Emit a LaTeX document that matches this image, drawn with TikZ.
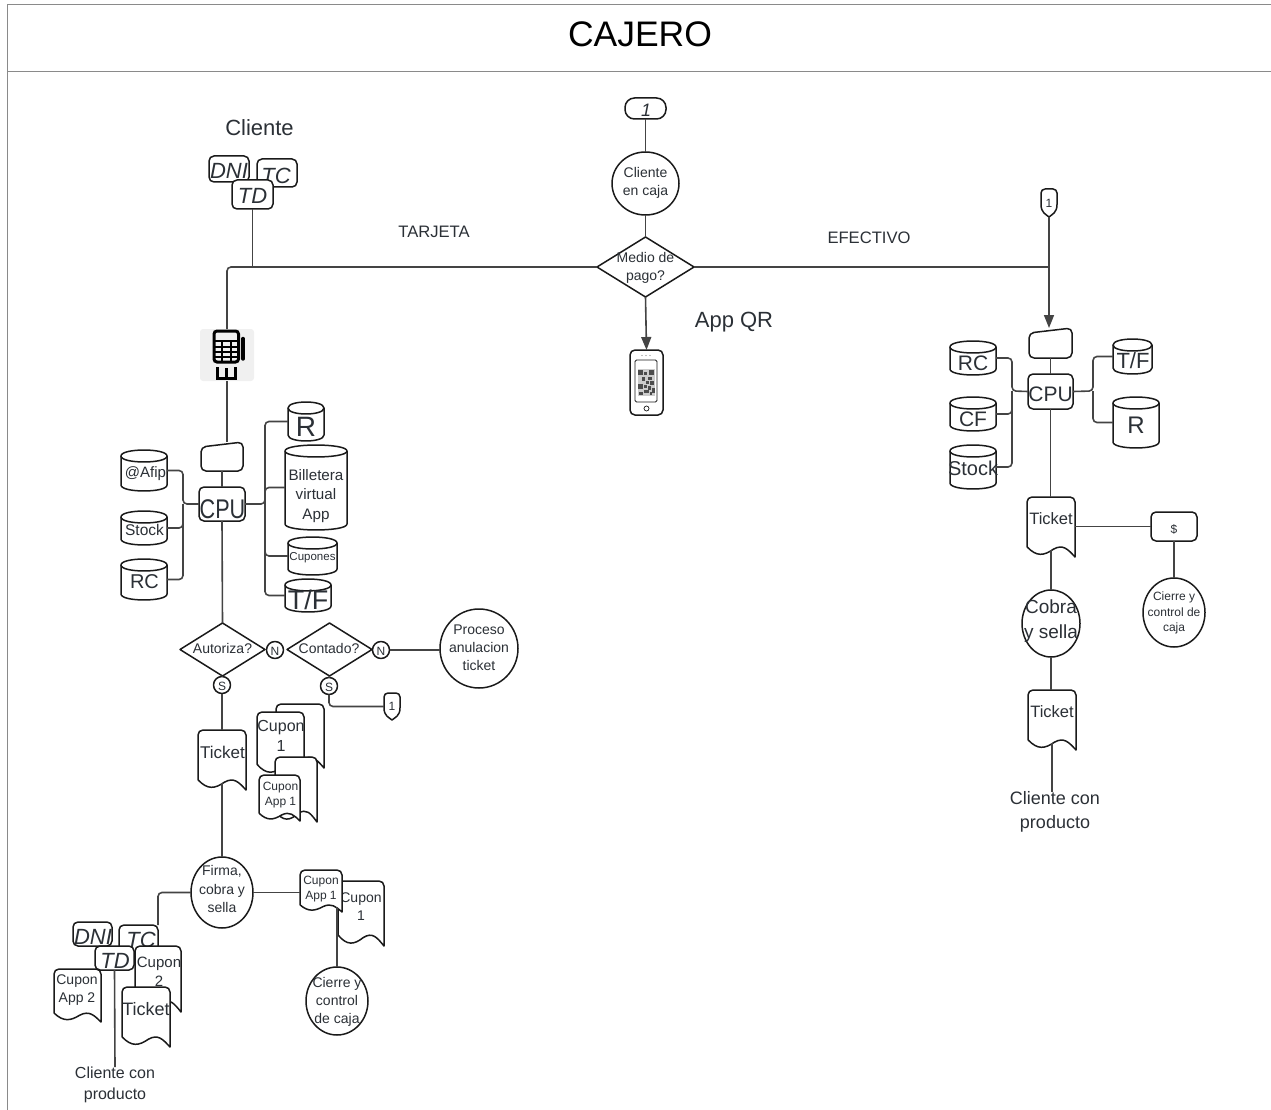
\documentclass[tikz,border=0pt]{standalone}
\usepackage{fontspec}
\usepackage{graphicx}
\setmainfont{Liberation Sans}
\usetikzlibrary{shapes.geometric,arrows.meta,calc}
\definecolor{txtc}{HTML}{2B3036}
\definecolor{conc}{HTML}{444444}
\definecolor{shpc}{HTML}{1A1A1A}
\definecolor{framec}{HTML}{8A8A8A}
\tikzset{
  shapeline/.style={draw=shpc,line width=1.5pt,line join=round},
  shp/.style={shapeline,inner sep=0pt,outer sep=0pt},
  ghost/.style={inner sep=0pt,outer sep=0pt,draw=none},
  txt/.style={align=center,inner sep=0pt,outer sep=0pt,text=txtc},
  conn/.style={draw=conc,line width=1.6pt,rounded corners=4pt},
  arr/.style={conn,-{Triangle[length=13pt,width=10pt]}},
  frameline/.style={draw=framec,line width=1pt}
}
% name x y size text
\newcommand\tx[5]{%
  \pgfmathsetmacro\shpL{1.3*#4}%
  \node[txt,font=\fontsize{#4}{\shpL}\selectfont] (#1) at (#2,{#3+1}) {#5};}
\newcommand\sizes[4]{\pgfmathsetmacro\shpW{#3-#1}\pgfmathsetmacro\shpH{#4-#2}}
% name x1 y1 x2 y2
\newcommand\rbx[5]{\sizes{#2}{#3}{#4}{#5}%
  \node[shp,fill=white,rounded corners=5pt,minimum width=\shpW pt,minimum height=\shpH pt] (#1) at ({(#2+#4)/2},{(#3+#5)/2}) {};}
\newcommand\pill[5]{\sizes{#2}{#3}{#4}{#5}%
  \node[shp,fill=white,rounded corners=9.5pt,minimum width=\shpW pt,minimum height=\shpH pt] (#1) at ({(#2+#4)/2},{(#3+#5)/2}) {};}
\newcommand\ellp[5]{\sizes{#2}{#3}{#4}{#5}%
  \node[shp,fill=white,ellipse,minimum width=\shpW pt,minimum height=\shpH pt] (#1) at ({(#2+#4)/2},{(#3+#5)/2}) {};}
\newcommand\dia[5]{\sizes{#2}{#3}{#4}{#5}%
  \node[shp,fill=white,diamond,minimum width=\shpW pt,minimum height=\shpH pt] (#1) at ({(#2+#4)/2},{(#3+#5)/2}) {};}
\newcommand\docbox[5]{\sizes{#2}{#3}{#4}{#5}%
  \begin{scope}[shift={(#2,#3)},x=\shpW pt,y=-\shpH pt]
    \draw[shapeline,fill=white] (0,.83) [rounded corners=5pt] -- (0,0) -- (1,0) [sharp corners] -- (1,1)
      .. controls (.85,.87) and (.75,.78) .. (.55,.87) .. controls (.35,.98) and (.2,1) .. (0,.83);
    \pgfmathsetmacro\shpHH{.88*\shpH}%
    \node[ghost,anchor=north west,minimum width=\shpW pt,minimum height=\shpHH pt] (#1) at (0,0) {};
  \end{scope}}
\newcommand\cyl[5]{\sizes{#2}{#3}{#4}{#5}%
  \pgfmathsetmacro\shpE{min(6,.18*\shpH)}%
  \begin{scope}[shift={(#2,#3)}]
    \draw[shapeline,fill=white] (0,\shpE) .. controls (0,{-.33*\shpE}) and (\shpW,{-.33*\shpE}) .. (\shpW,\shpE)
      -- (\shpW,{\shpH-\shpE}) .. controls (\shpW,{\shpH+.33*\shpE}) and (0,{\shpH+.33*\shpE}) .. (0,{\shpH-\shpE}) -- cycle;
    \draw[shapeline] (0,\shpE) .. controls (0,{2.33*\shpE}) and (\shpW,{2.33*\shpE}) .. (\shpW,\shpE);
    \node[ghost,anchor=north west,minimum width=\shpW pt,minimum height=\shpH pt] (#1) at (0,0) {};
  \end{scope}}
\newcommand\slantcard[5]{\sizes{#2}{#3}{#4}{#5}%
  \begin{scope}[shift={(#2,#3)}]
    \draw[shapeline,fill=white,rounded corners=5pt] (0,5) -- (\shpW,0) -- (\shpW,\shpH) -- (0,\shpH) -- cycle;
    \node[ghost,anchor=north west,minimum width=\shpW pt,minimum height=\shpH pt] (#1) at (0,0) {};
  \end{scope}}
\newcommand\offp[5]{\sizes{#2}{#3}{#4}{#5}%
  \begin{scope}[shift={(#2,#3)},x=\shpW pt,y=-\shpH pt]
    \draw[shapeline,fill=white] (.5,1) .. controls (.3,.9) and (0,.85) .. (0,.55) [rounded corners=4pt] -- (0,0) -- (1,0) [sharp corners] -- (1,.55) .. controls (1,.85) and (.7,.9) .. (.5,1) -- cycle;
    \node[ghost,anchor=north west,minimum width=\shpW pt,minimum height=\shpH pt] (#1) at (0,0) {};
  \end{scope}}
\begin{document}
\begin{tikzpicture}[x=1pt,y=-1pt]
\useasboundingbox (0,0) rectangle (1271,1110);
% frame
\coordinate (ftl) at (7,5); \coordinate (ftr) at (1271,5);
\coordinate (fbl) at (7,1110); \coordinate (fml) at (7,72); \coordinate (fmr) at (1271,72);
\draw[frameline] (ftr) -- (ftl) -- (fbl);
\draw[frameline] (fml) -- (fmr);
\node[txt,text=black,font=\fontsize{35.5}{40}\selectfont] (title) at (640,34) {CAJERO};

% centre column
\pill{start}{625}{98}{666}{119}\tx{start-t}{646}{109}{18}{\itshape 1}
\ellp{encaja}{612}{152}{679}{215}\tx{encaja-t}{645.5}{181.5}{14}{Cliente\\en caja}
\dia{medio}{597}{237}{694}{297}\tx{medio-t}{645.5}{266.5}{14}{Medio de\\pago?}
\tx{appqr}{734}{321}{22}{App QR}
\tx{tarjeta}{434}{231}{16.6}{TARJETA}
\tx{efectivo}{869}{237}{16.6}{EFECTIVO}
% phone
\rbx{phone}{630}{350}{663}{415}
\draw[shapeline,line width=.8pt,rounded corners=1.5pt] (635,360) rectangle (657,402);
\foreach \qx in {642,646,650} {\fill[gray] (\qx,355.5) circle (.6pt);}
\draw[shapeline,line width=.7pt] (646.5,408.5) circle (2.5pt);
\fill[gray!40] (637.5,369) rectangle (655,396);
\foreach \qx/\qy/\qw/\qh in {638/370/5/5,649/370/5/5,638/384/5/5,644/372/3/3,648/377/4/3,642/377/3/4,646/381/3/3,650/381/4/4,644/385/3/3,648/386/3/4,652/388/3/5,644/390/5/3,639/392/4/3,650/392/2/3} {\fill[black!70] (\qx,\qy) rectangle ++(\qw,\qh);}

% client cards top
\rbx{dni}{209}{156}{249}{182}\tx{dni-t}{229}{170}{22}{\itshape DNI}
\rbx{tc}{257}{159}{297}{187}\tx{tc-t}{276}{175}{22}{\itshape TC}
\rbx{td}{232}{180}{273}{209}\tx{td-t}{252.5}{195}{22}{\itshape TD}
\tx{cliente}{259.5}{127}{22}{Cliente}

% POS
\node[ghost,fill=black!6,rounded corners=3pt,minimum width=54pt,minimum height=52pt] (pos) at (227,355) {};
\draw[draw=black,line width=3pt,rounded corners=3pt] (214,331) rectangle (238.5,362);
\fill[black] (214,340) rectangle (238.5,342);
\foreach \qy in {346.5,351.5,356.5} {\draw[black,line width=2pt] (214,\qy) -- (238.5,\qy);}
\foreach \qx in {222,230.5} {\draw[black,line width=2pt] (\qx,341) -- (\qx,362);}
\draw[black,line width=3.4pt,line cap=round] (243,338.5) -- (243,359);
\draw[black,line width=3.6pt] (217.5,367) -- (217.5,378.5) -- (235.5,378.5) -- (235.5,367);
\draw[black,line width=2.6pt] (226.5,368) -- (226.5,378);

% left CPU group
\slantcard{cardL}{201}{442}{243}{471}
\rbx{cpuL}{199}{487}{245}{521}\tx{cpuL-t}{222.5}{508}{27}{\scalebox{.8}[1]{CPU}}
\cyl{afip}{121}{450}{167}{491}\tx{afip-t}{145.5}{473}{15}{@Afip}
\cyl{stockL}{121}{511}{167}{545}\tx{stockL-t}{144.5}{529}{15.5}{Stock}
\cyl{rcL}{121}{559}{167}{600}\tx{rcL-t}{144.5}{581}{20}{RC}
\cyl{rL}{288}{402}{324}{441}\tx{rL-t}{306}{426}{28}{R}
\cyl{bill}{285}{445}{347}{530}\tx{bill-t}{316}{495}{15.2}{Billetera\\virtual\\App}
\cyl{cupones}{288}{537}{337}{575}\tx{cupones-t}{312.5}{557}{11.5}{Cupones}
\cyl{tfL}{285}{579}{331}{612}\tx{tfL-t}{308}{599}{27}{T/F}
\coordinate (lbusL) at (183,504); \coordinate (rbusL) at (265,504);

% decisions
\dia{autoriza}{180}{623}{265}{676}\tx{autoriza-t}{222.5}{647}{14}{Autoriza?}
\dia{contado}{287}{623}{372}{676}\tx{contado-t}{329}{647}{14}{Contado?}
\node[shp,fill=white,circle,minimum size=17pt] (n1) at (275,650) {};\tx{n1-t}{275}{650}{12}{N}
\node[shp,fill=white,circle,minimum size=17pt] (n2) at (381,650) {};\tx{n2-t}{381}{650}{12}{N}
\node[shp,fill=white,circle,minimum size=17pt] (s1) at (222,685) {};\tx{s1-t}{222}{685}{12}{S}
\node[shp,fill=white,circle,minimum size=17pt] (s2) at (329,686) {};\tx{s2-t}{329}{686}{12}{S}
\ellp{proceso}{440}{609}{518}{688}\tx{proceso-t}{479}{647}{14}{Proceso\\anulacion\\ticket}
\offp{offL}{384}{693}{400}{720}\tx{offL-t}{392}{705}{12}{1}

% tickets left
\docbox{ticketL}{198}{730}{246}{790}\tx{ticketL-t}{222.5}{751}{17}{Ticket}
\docbox{cup1b}{276}{704}{324}{768}
\docbox{cup1f}{257}{712}{304}{775}\tx{cup1f-t}{281}{735}{16}{Cupon\\1}
\docbox{cupAb}{275}{757}{317}{822}
\docbox{cupAf}{259}{775}{300}{821}\tx{cupAf-t}{280.5}{794}{12}{Cupon\\App 1}

% firma group
\ellp{firma}{191}{857}{253}{928}\tx{firma-t}{222}{888}{14}{Firma,\\cobra y\\sella}
\rbx{dni2}{73}{922}{112}{946}\tx{dni2-t}{93}{936}{22}{\itshape DNI}
\rbx{tc2}{119}{925}{158}{952}\tx{tc2-t}{141}{939}{22}{\itshape TC}
\docbox{cupA2}{54}{969}{101}{1022}\tx{cupA2-t}{77}{989}{14}{Cupon\\App 2}
\docbox{cup2}{135}{946}{181}{1012}\tx{cup2-t}{159}{971}{15}{Cupon\\2}
\rbx{td2}{95}{946}{134}{970}\tx{td2-t}{115}{960}{22}{\itshape TD}
\docbox{ticketB}{122}{987}{170}{1047}\tx{ticketB-t}{146}{1008}{18}{Ticket}
\tx{prodL}{115}{1084}{16}{Cliente con\\producto}

\docbox{cup1r}{338}{881}{384}{946}\tx{cup1r-t}{361}{906}{14}{Cupon\\1}
\docbox{cupAr}{300}{870}{342}{912}\tx{cupAr-t}{321}{888}{12}{Cupon\\App 1}
\ellp{cierreL}{306}{967}{368}{1035}\tx{cierreL-t}{337}{1001}{14}{Cierre y\\control\\de caja}

% right column
\offp{offR}{1041}{189}{1057}{217}\tx{offR-t}{1049}{202}{12}{1}
\slantcard{cardR}{1029}{328}{1072}{358}
\rbx{cpuR}{1028}{374}{1073}{409}\tx{cpuR-t}{1050.5}{393}{21}{CPU}
\cyl{rcR}{950}{341}{996}{375}\tx{rcR-t}{973}{362}{21}{RC}
\cyl{cfR}{950}{397}{996}{431}\tx{cfR-t}{973}{418}{21}{CF}
\cyl{stockR}{950}{445}{996}{489}\tx{stockR-t}{973}{467}{20}{Stock}
\cyl{tfR}{1113}{339}{1152}{374}\tx{tfR-t}{1133}{360}{22}{T/F}
\cyl{rR}{1113}{397}{1159}{448}\tx{rR-t}{1136}{424}{24}{R}
\coordinate (lbusR) at (1012,391); \coordinate (rbusR) at (1093,391);
\docbox{ticketR}{1027}{497}{1075}{557}\tx{ticketR-t}{1051}{518}{16.5}{Ticket}
\rbx{dollar}{1151}{512}{1197}{541}\tx{dollar-t}{1174}{528}{12}{\$}
\ellp{cobra}{1022}{590}{1080}{657}\tx{cobra-t}{1051}{620}{19}{Cobra\\y sella}
\ellp{cierreR}{1143}{578}{1205}{647}\tx{cierreR-t}{1174}{612}{12}{Cierre y\\control de\\caja}
\docbox{ticketR2}{1028}{690}{1076}{750}\tx{ticketR2-t}{1052}{711}{16.5}{Ticket}
\tx{prodR}{1055}{811}{18}{Cliente con\\producto}

% connectors
\draw[conn] (start.south) -- (encaja.north);
\draw[conn] (encaja.south) -- (medio.north);
\draw[arr] (medio.south) -- (phone.north);
\draw[conn] (medio.west) -| (pos.north);
\draw[conn] (td.south) -- (td.south |- medio.west);
\draw[conn] (medio.east) -- (offR.south |- medio.east) coordinate (jR);
\draw[conn] (offR.south) -- (jR);
\draw[arr] (jR) -- (jR |- cardR.north);
\draw[conn] (pos.south) -- (pos.south |- cardL.north);
\draw[conn] (cardL.south) -- (cpuL.north);
\draw[conn] (afip.east) -| (lbusL) -- (cpuL.west);
\draw[conn] (stockL.east) -| (lbusL);
\draw[conn] (rcL.east) -| (lbusL);
\draw[conn] (cpuL.east) -- (rbusL) |- (rL.west);
\draw[conn] (rbusL) |- (bill.west);
\draw[conn] (rbusL) |- (cupones.west);
\draw[conn] (rbusL) |- (tfL.west);
\draw[conn] (cpuL.south) -- (autoriza.north);
\draw[conn] (autoriza.south) -- (s1.north);
\draw[conn] (contado.south) -- (s2.north);
\draw[conn] (s1.south) -- (ticketL.north -| s1.south);
\draw[conn] (s2.south) |- (offL.west);
\draw[conn] (n2.east) -- (n2.east -| proceso.west);
\draw[conn] (ticketL.south) -- (ticketL.south |- firma.north);
\draw[conn] (firma.west) -| (tc2.north east);
\draw[conn] (firma.east) -- (firma.east -| cupAr.west);
\draw[conn] (td2.south) -- (prodL.north);
\draw[conn] (cierreL.north |- cupAr.south) -- (cierreL.north);
\draw[conn] (cardR.south) -- (cpuR.north);
\draw[conn] (rcR.east) -| (lbusR) -- (cpuR.west);
\draw[conn] (cfR.east) -| (lbusR);
\draw[conn] (stockR.east) -| (lbusR);
\draw[conn] (cpuR.east) -- (rbusR) |- (tfR.west);
\draw[conn] (rbusR) |- (rR.west);
\draw[conn] (cpuR.south) -- (ticketR.north -| cpuR.south);
\draw[conn] (ticketR.south) -- (ticketR.south |- cobra.north);
\draw[conn] (cobra.south) -- (cobra.south |- ticketR2.north);
\draw[conn] (ticketR2.south) -- (ticketR2.south |- prodR.north);
\draw[conn] (ticketR.east |- dollar.west) -- (dollar.west);
\draw[conn] (dollar.south) -- (cierreR.north);
\end{tikzpicture}
\end{document}
